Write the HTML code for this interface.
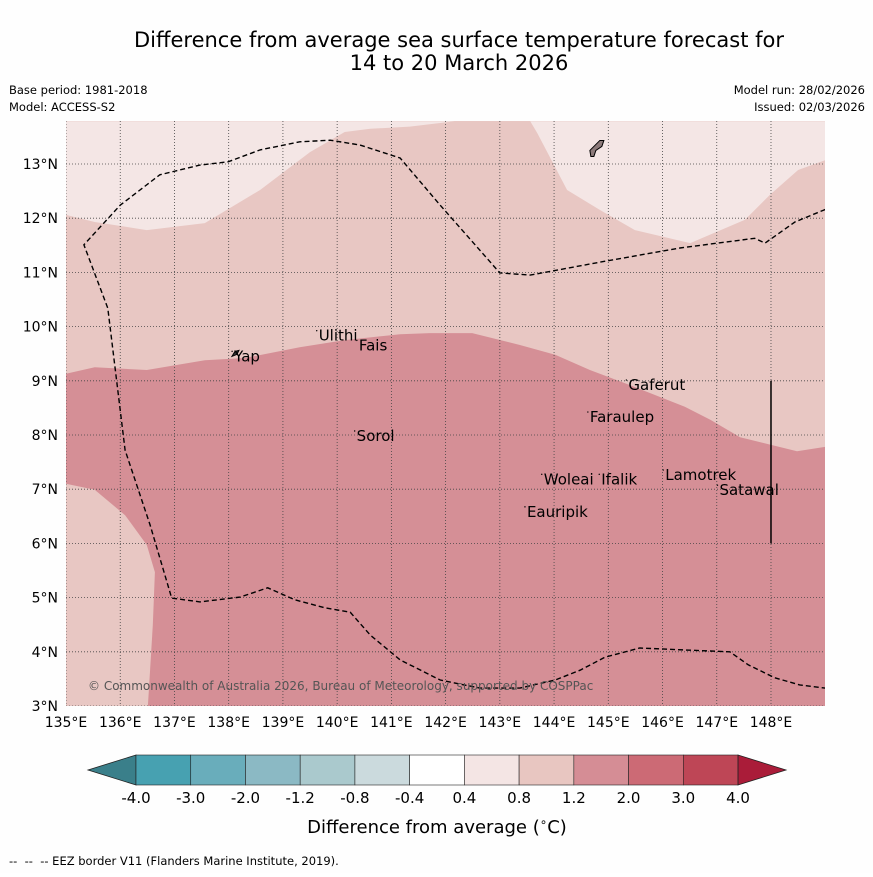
<!DOCTYPE html>
<html><head><meta charset="utf-8"><style>
body{margin:0;background:#fff;width:873px;height:873px;overflow:hidden;font-family:"DejaVu Sans","Liberation Sans",sans-serif}
</style></head><body>
<svg id="chart" width="873" height="873" xmlns="http://www.w3.org/2000/svg" font-family="DejaVu Sans, Liberation Sans, sans-serif">
<rect width="873" height="873" fill="#fefefe"/>
<text x="459" y="47" text-anchor="middle" font-size="21">Difference from average sea surface temperature forecast for</text>
<text x="459" y="70" text-anchor="middle" font-size="21">14 to 20 March 2026</text>
<text x="9" y="94" font-size="11.5">Base period: 1981-2018</text>
<text x="9" y="111" font-size="11.5">Model: ACCESS-S2</text>
<text x="865" y="94" font-size="11.5" text-anchor="end">Model run: 28/02/2026</text>
<text x="865" y="111" font-size="11.5" text-anchor="end">Issued: 02/03/2026</text>
<defs><clipPath id="mapclip"><rect x="66" y="121" width="759" height="585"/></clipPath></defs>
<g id="map" clip-path="url(#mapclip)"></g>
<g id="axes"></g>
<g id="cbar"></g>
<text x="437" y="833" text-anchor="middle" font-size="18">Difference from average (<tspan font-size="12" dy="-7">∘</tspan><tspan dy="7">C)</tspan></text>
<text x="9" y="865" font-size="11.5" xml:space="preserve">--  --  -- EEZ border V11 (Flanders Marine Institute, 2019).</text>
</svg>
<script>
const NS="http://www.w3.org/2000/svg";
const lonTicks=[135,136,137,138,139,140,141,142,143,144,145,146,147,148];
const latTicks=[3,4,5,6,7,8,9,10,11,12,13];
const cbLevels=["-4.0","-3.0","-2.0","-1.2","-0.8","-0.4","0.4","0.8","1.2","2.0","3.0","4.0"];
const cbColors=["#47a1b1","#69adbb","#8bb9c4","#aac9cd","#cbdadd","#ffffff","#f4e5e4","#e8c6c1","#d58d95","#cc6a75","#be4656"];
const lightTopLeft=[[135,13.79],[135,12.06],[135.53,11.93],[136.49,11.78],[137.56,11.91],[138.58,12.52],[139.5,13.22],[140.14,13.59],[140.61,13.65],[141.34,13.69],[142.17,13.79]];
const lightTopRight=[[143.56,13.79],[143.69,13.57],[144.24,12.52],[144.85,12.15],[145.49,11.78],[146.51,11.54],[147.52,11.97],[147.98,12.43],[148.5,12.89],[149,13.07],[149,13.79]];
const warmBoundary=[[135,9.13],[135.53,9.25],[136.49,9.2],[137.56,9.38],[138.3,9.42],[139.31,9.62],[140.14,9.75],[141.16,9.86],[141.71,9.88],[142.49,9.88],[143.37,9.66],[144.02,9.48],[144.66,9.2],[145.4,8.92],[146.41,8.52],[146.88,8.28],[147.43,7.96],[148.48,7.7],[149,7.78]];
const coolPatch=[[135,7.1],[135.53,6.99],[136.09,6.52],[136.49,5.97],[136.64,5.47],[136.6,4.49],[136.51,3],[135,3]];
const eezLine=[[149,12.16],[148.44,11.93],[147.89,11.54],[147.7,11.63],[146.32,11.45],[144.85,11.19],[143.56,10.95],[143.0,10.99],[141.9,12.24],[141.16,13.11],[140.42,13.35],[139.87,13.44],[139.31,13.41],[138.58,13.26],[137.99,13.04],[137.47,12.98],[136.73,12.8],[136.0,12.24],[135.33,11.51],[135.77,10.34],[136.09,7.72],[136.55,6.34],[136.95,4.99],[137.47,4.92],[138.21,5.01],[138.72,5.18],[139.22,4.96],[139.78,4.81],[140.24,4.73],[140.61,4.31],[141.16,3.85],[141.9,3.48],[142.63,3.33],[143.37,3.33],[144.02,3.48],[144.48,3.66],[144.94,3.9],[145.58,4.07],[146.51,4.03],[147.24,4.0],[147.58,3.76],[148.07,3.52],[148.53,3.39],[149,3.33]];
const islandNames=["Ulithi","Fais","Yap","Gaferut","Faraulep","Sorol","Woleai","Ifalik","Lamotrek","Satawal","Eauripik"];
const islandLon=[139.66,140.4,138.1,145.37,144.66,140.36,143.81,144.87,146.05,147.05,143.5];
const islandLat=[9.85,9.67,9.47,8.94,8.35,8.0,7.2,7.2,7.28,7.0,6.6];
const X=lon=>66+(lon-135)*54.23, Y=lat=>706-(lat-3)*54.2;
function el(t,a,p){const e=document.createElementNS(NS,t);for(const k in a)e.setAttribute(k,a[k]);p.appendChild(e);return e;}
const pts=a=>a.map(p=>X(p[0]).toFixed(1)+","+Y(p[1]).toFixed(1)).join(" ");
const map=document.getElementById("map");
let r=el("rect",{x:66,y:121,width:759,height:585,fill:"#e8c7c3"},map);


let p=el("polygon",{points:pts(lightTopLeft),fill:"#f4e6e5"},map);


p=el("polygon",{points:pts(lightTopRight),fill:"#f4e6e5"},map);


p=el("polygon",{points:pts(warmBoundary.concat([[149,3],[135,3]])),fill:"#d58f96"},map);


p=el("polygon",{points:pts(coolPatch),fill:"#e8c7c3"},map);


lonTicks.forEach(l=>{let g=el("line",{x1:X(l),x2:X(l),y1:121,y2:706,stroke:"#444","stroke-width":0.8,"stroke-dasharray":"1,2"},map);

});
latTicks.forEach(l=>{let g=el("line",{x1:66,x2:825,y1:Y(l),y2:Y(l),stroke:"#444","stroke-width":0.8,"stroke-dasharray":"1,2"},map);

});
let eez=el("polyline",{points:pts(eezLine),fill:"none",stroke:"#000","stroke-width":1.4,"stroke-dasharray":"5,3"},map);


let vl=el("line",{x1:X(148),x2:X(148),y1:Y(9),y2:Y(6),stroke:"#000","stroke-width":1.5},map);


let guam=el("path",{d:`M${X(144.66)},${Y(13.25)} l4,-4 l6,-6 l4,0 l-2,6 l-6,4 l-2,6 l-3,0 z`,fill:"#8c7a7a",stroke:"#000","stroke-width":1},map);


let yap=el("path",{d:`M${X(138.06)},${Y(9.45)} l3,-5 l4,-1 l-2,4 z`,fill:"#333",stroke:"#000","stroke-width":1},map);


islandNames.forEach((n,i)=>{
 let d=el("circle",{cx:X(islandLon[i])-2,cy:Y(islandLat[i])-4,r:0.7,fill:"#000"},map);
 
 
 let t=el("text",{x:X(islandLon[i]),y:Y(islandLat[i])+6,"font-size":15,fill:"#000"},map);
 t.textContent=n;
 
 
});
let cp=el("text",{x:88,y:690,"font-size":12,fill:"#555"},map);
cp.textContent="© Commonwealth of Australia 2026, Bureau of Meteorology, supported by COSPPac";


const ax=document.getElementById("axes");
lonTicks.forEach(l=>{let t=el("text",{x:X(l),y:727,"text-anchor":"middle","font-size":14},ax);t.textContent=l+"°E";

});
latTicks.forEach(l=>{let t=el("text",{x:58,y:Y(l)+5,"text-anchor":"end","font-size":14},ax);t.textContent=l+"°N";

});
const cb=document.getElementById("cbar");
const cx0=136,cw=54.73,cy=755,ch=30;
let lt=el("polygon",{points:`${cx0},${cy} ${cx0},${cy+ch} 88,${cy+ch/2}`,fill:"#3a7f8a",stroke:"#222","stroke-width":0.8},cb);


cbColors.forEach((c,i)=>{let b=el("rect",{x:cx0+i*cw,y:cy,width:cw,height:ch,fill:c,stroke:"#222","stroke-width":0.6},cb);

});
const cx1=cx0+cbColors.length*cw;
let rt=el("polygon",{points:`${cx1},${cy} ${cx1},${cy+ch} 786,${cy+ch/2}`,fill:"#aa1c39",stroke:"#222","stroke-width":0.8},cb);


cbLevels.forEach((v,i)=>{let t=el("text",{x:cx0+i*cw,y:803,"text-anchor":"middle","font-size":15},cb);t.textContent=v;

});
</script>
</body></html>
